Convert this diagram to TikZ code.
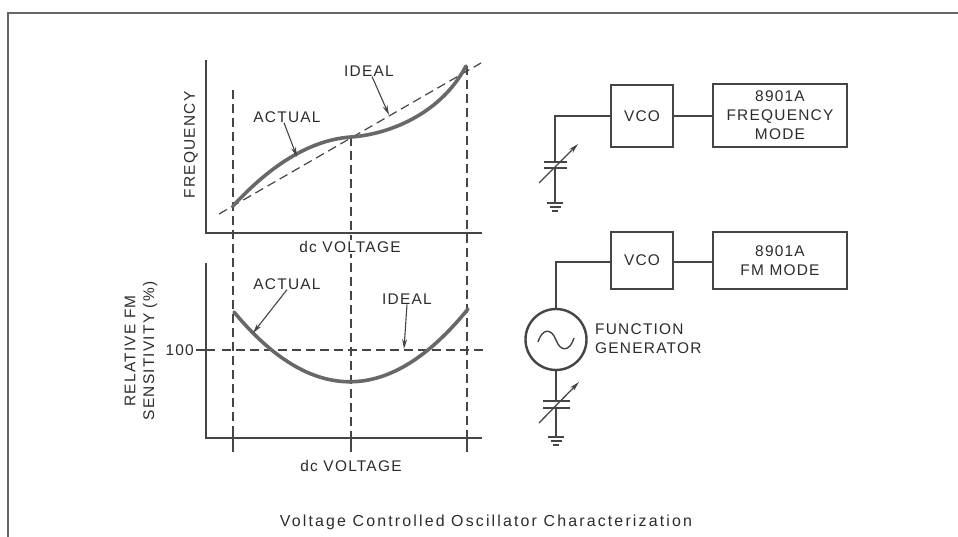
\documentclass[tikz,border=0pt]{standalone}
\usepackage{fontspec}
\setmainfont{Liberation Sans}[LetterSpace=8]
\usetikzlibrary{arrows.meta}
\definecolor{ink}{HTML}{2C2C2C}
\definecolor{linegray}{HTML}{454545}
\definecolor{curvegray}{HTML}{686868}
\definecolor{framegray}{HTML}{666666}
\tikzset{
  lbl/.style={font=\fontsize{15.5}{19}\selectfont, text=ink, inner sep=0pt, align=center},
  axisln/.style={draw=linegray, line width=1.6bp},
  dashln/.style={draw=linegray, line width=1.2bp, dash pattern=on 9bp off 5bp},
  curveln/.style={draw=curvegray, line width=3.6bp, line cap=round},
  ptr/.style={draw=linegray, line width=1.1bp, -{Stealth[length=10bp,width=5bp]}},
  blockbox/.style={draw=linegray, line width=2.4bp, inner sep=0pt, lbl},
  wire/.style={draw=linegray, line width=1.2bp},
  plate/.style={draw=linegray, line width=1.8bp},
}
\begin{document}
\begin{tikzpicture}[x=1bp,y=-1bp]
\useasboundingbox (0,0) rectangle (958,537);
\fill[white] (0,0) rectangle (958,537);
% frame
\draw[framegray, line width=2.2bp] (8,537) -- (8,13) -- (958,13);

% ---------- top graph ----------
\coordinate (o1) at (206,233);
\coordinate (y1) at (206,60);
\coordinate (x1) at (482,233);
\draw[axisln] (y1) -- (o1) -- (x1);
\coordinate (va) at (233,90);   \coordinate (vab) at (233,452);
\coordinate (vb) at (351,137);  \coordinate (vbb) at (351,452);
\coordinate (vc) at (467,66);   \coordinate (vcb) at (467,452);
\draw[dashln] (va) -- (vab);
\draw[dashln] (vb) -- (vbb);
\draw[dashln] (vc) -- (vcb);
\coordinate (i1) at (219,214);
\coordinate (i2) at (481,63);
\draw[dashln] (i1) -- (i2);
\draw[curveln] (233,206) .. controls (268,168) and (308,140) .. (vb)
               .. controls (392,134) and (442,112) .. (466,66);
\node[lbl] (fq) at (191,145) [rotate=90] {FREQUENCY};
\node[lbl, fill=white, inner sep=1.5pt] (dcv1) at (350,247) {dc VOLTAGE};
\node[lbl] (act1) at (287,117) {ACTUAL};
\node[lbl] (idl1) at (369,71) {IDEAL};
\coordinate (act1tip) at (297,157);
\coordinate (idl1tip) at (389,115);
\draw[ptr] ([xshift=-3bp]act1.south) -- (act1tip);
\draw[ptr] ([xshift=3bp]idl1.south) -- (idl1tip);

% ---------- bottom graph ----------
\coordinate (o2) at (206,438);
\coordinate (y2) at (206,263);
\coordinate (x2) at (482,438);
\draw[axisln] (y2) -- (o2) -- (x2);
\coordinate (h0) at (196,350);
\coordinate (h1) at (215,350);
\coordinate (h2) at (222,350);
\coordinate (h3) at (488,350);
\draw[axisln, line width=1.2bp] (h0) -- (h1);
\draw[dashln] (h2) -- (h3);
\foreach \xx in {233,351,467}{
  \draw[axisln, line width=1.2bp] (\xx,432) -- (\xx,452);
}
\draw[curveln] (234,312) .. controls (312,406) and (390,405) .. (468,309);
\node[lbl, anchor=east] (hundred) at (194,350) {100};
\node[lbl] (ylab2) at (141,351) [rotate=90] {RELATIVE FM\\SENSITIVITY (\%)};
\node[lbl] (dcv2) at (351,466) {dc VOLTAGE};
\node[lbl] (act2) at (287,284) {ACTUAL};
\node[lbl] (idl2) at (407,299) {IDEAL};
\coordinate (act2tip) at (253,333);
\coordinate (idl2tip) at (404,349);
\draw[ptr] (act2.south) -- (act2tip);
\draw[ptr] (idl2.south) -- (idl2tip);

% ---------- top block diagram ----------
\node[blockbox, minimum width=62bp, minimum height=62bp] (vco1) at (642,116) {VCO};
\node[blockbox, minimum width=134bp, minimum height=63bp] (fr1) at (780,115.5) {8901A\\FREQUENCY\\MODE};
\draw[wire] (vco1.east) -- (fr1.west |- vco1.east);
\coordinate (c1a) at (555,162);
\coordinate (c1b) at (555,168);
\coordinate (g1) at (555,203);
\draw[wire] (vco1.west) -| (c1a);
\draw[plate] (544,162) -- (567,162);
\draw[plate] (544,168) -- (567,168);
\draw[wire] (c1b) -- (g1);
\draw[wire] (547,203) -- (563,203);
\draw[wire] (549.5,207) -- (560.5,207);
\draw[wire] (552,211) -- (558,211);
\coordinate (ar1a) at (539,183);
\coordinate (ar1b) at (578,144);
\draw[ptr, line width=1.3bp] (ar1a) -- (ar1b);

% ---------- bottom block diagram ----------
\node[blockbox, minimum width=62bp, minimum height=57bp] (vco2) at (642,260.5) {VCO};
\node[blockbox, minimum width=134bp, minimum height=57bp] (fm2) at (780,260.5) {8901A\\FM MODE};
\coordinate (w2) at (611,262);
\draw[wire] (vco2.east |- w2) -- (fm2.west |- w2);
\node[draw=linegray, line width=2.4bp, circle, minimum size=61bp, inner sep=0pt] (fg) at (556,339.5) {};
\draw[wire] (w2) -| (fg.north);
\draw[draw=linegray, line width=1.4bp] (538,342) .. controls (542,329) and (551,327) .. (556,340)
      .. controls (561,353) and (570,351) .. (574,338);
\node[lbl, anchor=west, align=left] (fgl) at (595,339) {FUNCTION\\GENERATOR};
\coordinate (c2a) at (556,401);
\coordinate (c2b) at (556,408);
\coordinate (g2) at (556,437);
\draw[wire] (fg.south) -- (c2a);
\draw[plate] (543,401) -- (570,401);
\draw[plate] (543,408) -- (570,408);
\draw[wire] (c2b) -- (g2);
\draw[wire] (548,437) -- (564,437);
\draw[wire] (550.5,441) -- (561.5,441);
\draw[wire] (553,445) -- (559,445);
\coordinate (ar2a) at (539,423);
\coordinate (ar2b) at (579,382);
\draw[ptr, line width=1.3bp] (ar2a) -- (ar2b);

% caption
\node[lbl, font=\fontsize{16}{19}\selectfont\addfontfeatures{LetterSpace=13.5}] (cap) at (486,522) {Voltage Controlled Oscillator Characterization};
\end{tikzpicture}
\end{document}
